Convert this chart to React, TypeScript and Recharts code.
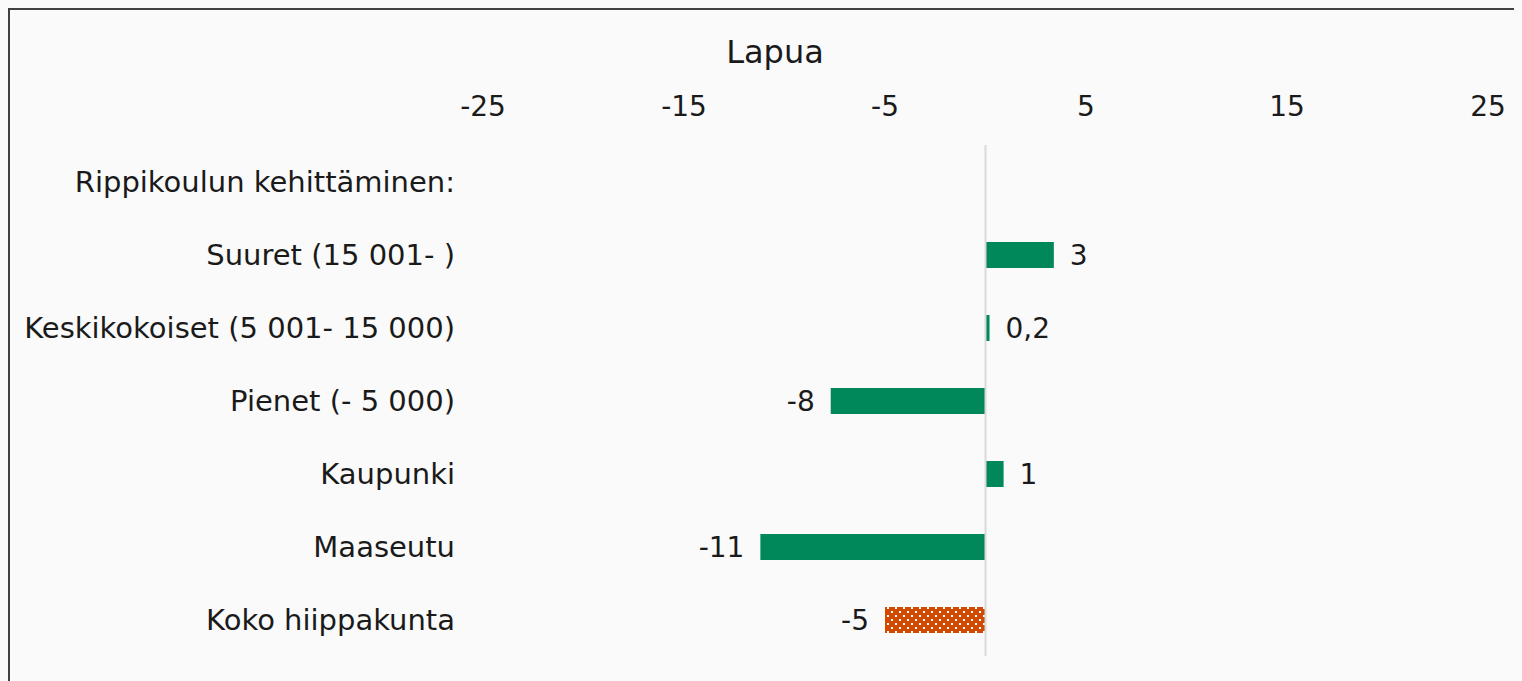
import { useEffect } from 'react';
import { BarChart, Bar, XAxis, YAxis, Cell, LabelList, ReferenceLine } from 'recharts';

const categories = [
  'Rippikoulun kehittäminen:',
  'Suuret (15 001- )',
  'Keskikokoiset (5 001- 15 000)',
  'Pienet (- 5 000)',
  'Kaupunki',
  'Maaseutu',
  'Koko hiippakunta',
];
const values: (number | null)[] = [null, 3.4, 0.2, -7.7, 0.9, -11.2, -5];
const valueLabels = ['', '3', '0,2', '-8', '1', '-11', '-5'];
const xTicks = [-25, -15, -5, 5, 15, 25];

const FONT = '"DejaVu Sans", Verdana, sans-serif';
const GREEN = '#00875a';
const ORANGE = '#d04a02';

const data = categories.map((name, i) => ({ name, value: values[i], label: valueLabels[i] }));

function ValueLabel(props: any) {
  const { x, y, width, height, value } = props;
  const i = valueLabels.indexOf(value);
  const v = i >= 0 ? values[i] : null;
  if (v === null || v === undefined || !value) return null;
  const end = Number(x) + Number(width);
  const neg = v < 0;
  return (
    <text
      x={neg ? Math.min(x, end) - 16 : Math.max(x, end) + 16}
      y={Number(y) + Number(height) / 2}
      dy="0.36em"
      textAnchor={neg ? 'end' : 'start'}
      fontSize={28}
      fontFamily={FONT}
      fill="#1a1a1a"
    >
      {value}
    </text>
  );
}

export default function App() {
  useEffect(() => {
    document.body.style.background = '#fafafa';
  }, []);

  return (
    <div
      style={{
        position: 'relative',
        width: 1530,
        height: 700,
        border: '2px solid #404040',
        background: '#fafafa',
        fontFamily: FONT,
      }}
    >
      <div
        style={{
          position: 'absolute',
          top: 23,
          left: 0,
          width: '100%',
          textAlign: 'center',
          fontSize: 32,
          color: '#1a1a1a',
        }}
      >
        Lapua
      </div>
      <BarChart
        width={1530}
        height={700}
        data={data}
        layout="vertical"
        margin={{ top: 0, right: 52, bottom: 54, left: 0 }}
        barCategoryGap={0}
      >
        <defs>
          <pattern id="dots" width="8" height="8" patternUnits="userSpaceOnUse">
            <rect width="8" height="8" fill={ORANGE} />
            <rect x="1" y="1" width="2" height="2" fill="#ffffff" />
            <rect x="5" y="5" width="2" height="2" fill="#ffffff" />
          </pattern>
        </defs>
        <XAxis
          type="number"
          orientation="top"
          domain={[-25, 25]}
          ticks={xTicks}
          height={135}
          axisLine={false}
          tickLine={false}
          tickSize={0}
          tickMargin={29}
          tick={{ fill: '#1a1a1a', fontSize: 28, fontFamily: FONT }}
        />
        <YAxis
          type="category"
          dataKey="name"
          width={473}
          axisLine={false}
          tickLine={false}
          tickSize={0}
          tickMargin={28}
          interval={0}
          tick={{ fill: '#1a1a1a', fontSize: 29, fontFamily: FONT }}
        />
        <ReferenceLine x={0} stroke="#d9d9d9" strokeWidth={2} />
        <Bar dataKey="value" barSize={26} isAnimationActive={false}>
          {data.map((d, i) => (
            <Cell key={d.name} fill={i === data.length - 1 ? 'url(#dots)' : GREEN} />
          ))}
          <LabelList dataKey="label" content={ValueLabel} />
        </Bar>
      </BarChart>
    </div>
  );
}
